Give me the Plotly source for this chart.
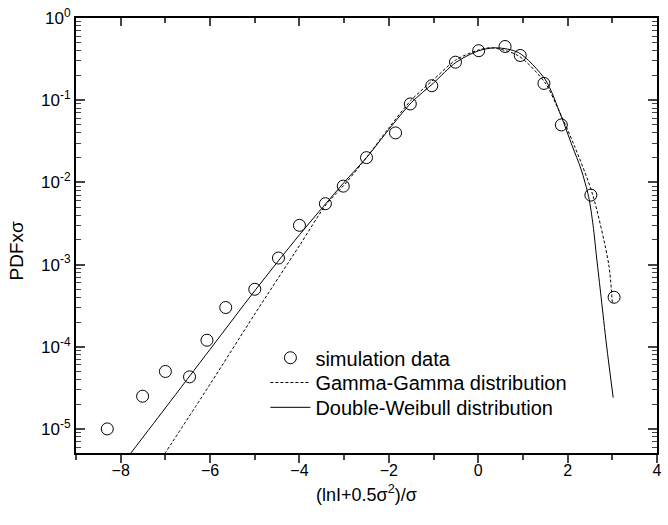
import plotly.graph_objects as go

# simulation data
sim_x = [-8.30, -7.51, -7.00, -6.46, -6.07, -5.65, -5.00, -4.47, -4.00, -3.42, -3.02,
         -2.50, -1.85, -1.52, -1.04, -0.51, 0.01, 0.60, 0.94, 1.47, 1.86, 2.52, 3.04]
sim_y = [1.0e-5, 2.5e-5, 5.0e-5, 4.3e-5, 1.2e-4, 3.0e-4, 5.0e-4, 1.2e-3, 3.0e-3, 5.5e-3, 9.0e-3,
         0.020, 0.040, 0.090, 0.15, 0.29, 0.40, 0.45, 0.35, 0.16, 0.050, 0.0070, 4.0e-4]

# Gamma-Gamma distribution (dashed)
gg_x = [-7.2, -6.0, -5.0, -4.0, -3.4, -3.0, -2.5, -2.0, -1.5, -1.0, -0.5, 0.0, 0.3,
        0.9, 1.5, 1.75, 2.15, 2.56, 2.92, 3.0]
gg_y = [3.5e-6, 3.5e-5, 2.5e-4, 1.7e-3, 5.4e-3, 9.3e-3, 0.020, 0.046, 0.100, 0.178, 0.309,
        0.407, 0.434, 0.347, 0.162, 0.087, 0.028, 0.0071, 1.0e-3, 3.4e-4]

# Double-Weibull distribution (solid)
dw_x = [-8.0, -7.0, -6.0, -5.0, -4.0, -3.0, -2.5, -2.0, -1.5, -1.0, -0.5, 0.0, 0.4,
        0.9, 1.5, 1.85, 2.1, 2.3, 2.47, 2.57, 2.65, 2.75, 2.87, 3.02]
dw_y = [3.5e-6, 1.8e-5, 9.3e-5, 4.8e-4, 2.3e-3, 1.0e-2, 0.020, 0.044, 0.093, 0.162, 0.288,
        0.398, 0.434, 0.38, 0.178, 0.065, 0.028, 0.0145, 0.0067, 3.0e-3, 1.2e-3, 4.0e-4,
        1.05e-4, 2.4e-5]

x_tickvals = [-8, -6, -4, -2, 0, 2, 4]
y_tickvals = [1e-5, 1e-4, 1e-3, 1e-2, 1e-1, 1]
y_ticktext = ["10<sup>-5</sup>", "10<sup>-4</sup>", "10<sup>-3</sup>",
              "10<sup>-2</sup>", "10<sup>-1</sup>", "10<sup>0</sup>"]

FONT = "Liberation Sans, Arial, sans-serif"

fig = go.Figure()
fig.add_trace(go.Scatter(
    x=sim_x, y=sim_y, mode="markers", name="simulation data", legend="legend",
    marker=dict(symbol="circle-open", size=12, color="black", line=dict(width=1, color="black"))))
fig.add_trace(go.Scatter(
    x=gg_x, y=gg_y, mode="lines", name="Gamma-Gamma distribution", legend="legend2",
    line=dict(color="black", width=1, dash="3px,2px", shape="spline", smoothing=0.8)))
fig.add_trace(go.Scatter(
    x=dw_x, y=dw_y, mode="lines", name="Double-Weibull distribution", legend="legend3",
    line=dict(color="black", width=1, shape="spline", smoothing=0.8)))
# dummy trace for top axis
fig.add_trace(go.Scatter(x=[None], y=[None], xaxis="x2", showlegend=False, hoverinfo="skip"))

minor_y = [m * 10.0 ** e for e in range(-6, 1) for m in range(2, 10)]

leg_common = dict(xanchor="left", yanchor="middle", bgcolor="rgba(0,0,0,0)",
                  font=dict(size=20, family=FONT), itemwidth=40)

fig.update_layout(
    width=668, height=525,
    margin=dict(l=76, r=6, t=15, b=72),
    paper_bgcolor="white", plot_bgcolor="white",
    font=dict(family=FONT, color="black", size=16),
    showlegend=True,
    legend=dict(x=0.326, y=0.219, **leg_common),
    legend2=dict(x=0.326, y=0.162, **leg_common),
    legend3=dict(x=0.326, y=0.105, **leg_common),
    xaxis=dict(range=[-9, 4], tickvals=x_tickvals, ticks="outside", ticklen=8, tickwidth=1.5,
               showline=True, linewidth=2, linecolor="black", showgrid=False, zeroline=False,
               tickfont=dict(size=16), ticklabeloverflow="allow", ticklabelstandoff=-6,
               minor=dict(ticks="outside", ticklen=5, tickwidth=1.5, dtick=1, tick0=0, showgrid=False)),
    xaxis2=dict(range=[-9, 4], overlaying="x", side="top", tickvals=x_tickvals,
                ticks="inside", ticklen=8, tickwidth=1.5, showticklabels=False,
                showline=True, linewidth=2, linecolor="black", showgrid=False, zeroline=False,
                minor=dict(ticks="inside", ticklen=5, tickwidth=1.5, dtick=1, tick0=0, showgrid=False)),
    yaxis=dict(type="log", range=[-5.293, 0], tickvals=y_tickvals, ticktext=y_ticktext,
               ticks="inside", ticklen=9, tickwidth=1.5, mirror="ticks",
               showline=True, linewidth=2, linecolor="black", showgrid=False, zeroline=False,
               tickfont=dict(size=17), ticklabeloverflow="allow",
               minor=dict(tickvals=minor_y, ticks="inside", ticklen=5, tickwidth=1.2, showgrid=False)),
    annotations=[
        dict(text="(lnI+0.5σ<sup>2</sup>)/σ", xref="paper", yref="paper", x=0.5, y=-0.094,
             xanchor="center", yanchor="middle", showarrow=False, font=dict(size=18, family=FONT)),
        dict(text="PDFxσ", xref="paper", yref="paper", x=-0.102, y=0.465, textangle=-90,
             xanchor="center", yanchor="middle", showarrow=False, font=dict(size=19, family=FONT)),
    ],
)

fig.write_html("out.html", config={"displayModeBar": False},
               post_script="document.body.style.margin='0px';")
